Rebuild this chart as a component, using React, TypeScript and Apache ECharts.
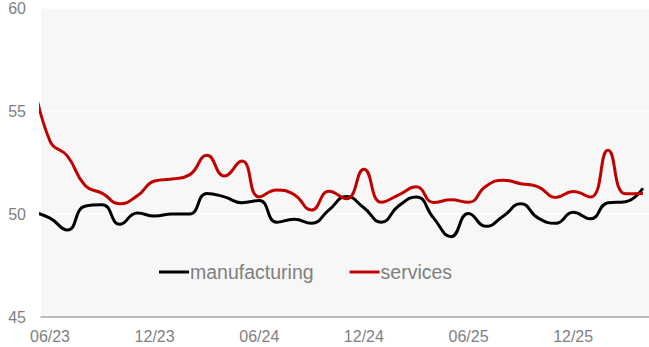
import React, { useEffect, useRef } from "react";
import * as echarts from "echarts";

// months: index 0 is 05/23 (partly clipped at the left edge), last is 04/26
const months: string[] = [
  "05/23", "06/23", "07/23", "08/23", "09/23", "10/23", "11/23", "12/23",
  "01/24", "02/24", "03/24", "04/24", "05/24", "06/24", "07/24", "08/24",
  "09/24", "10/24", "11/24", "12/24", "01/25", "02/25", "03/25", "04/25",
  "05/25", "06/25", "07/25", "08/25", "09/25", "10/25", "11/25", "12/25",
  "01/26", "02/26", "03/26", "04/26",
];

const manufacturing: number[] = [
  50.1, 49.8, 49.22, 50.38, 50.45, 49.5, 50.05, 49.9,
  50.0, 50.0, 51.0, 50.83, 50.55, 50.65, 49.6, 49.75,
  49.55, 50.2, 50.85, 50.3, 49.6, 50.4, 50.83, 49.8,
  48.9, 50.03, 49.4, 49.9, 50.5, 49.8, 49.55, 50.08,
  49.77, 50.55, 50.6, 51.25,
];

const services: number[] = [
  56.8, 53.54, 52.81, 51.4, 51.0, 50.5, 50.88, 51.6,
  51.7, 51.9, 52.85, 51.85, 52.57, 50.83, 51.16, 50.94,
  50.19, 51.1, 50.74, 52.17, 50.57, 50.93, 51.32, 50.56,
  50.69, 50.57, 51.35, 51.64, 51.47, 51.32, 50.8, 51.09,
  50.82, 53.09, 50.98, 50.99,
];

const yTicks: number[] = [45, 50, 55, 60];
const xLabelMonths: string[] = ["06/23", "12/23", "06/24", "12/24", "06/25", "12/25"];

export default function App() {
  const ref = useRef<HTMLDivElement>(null);

  useEffect(() => {
    if (!ref.current) return;
    const chart = echarts.init(ref.current, null, { renderer: "svg" });
    // x position: months since 06/23
    const toPairs = (vals: number[]) => vals.map((v, i) => [i - 1, v]);
    const labelIdx = xLabelMonths.map((m) => months.indexOf(m) - 1);
    const grey = "#7f7f7f";
    const font = "'Liberation Sans', Arial, sans-serif";

    chart.setOption({
      animation: false,
      backgroundColor: "#ffffff",
      grid: {
        left: 41,
        right: 0,
        top: 6,
        bottom: 30,
        show: true,
        backgroundColor: "#f7f7f7",
        borderWidth: 0,
      },
      legend: {
        left: 159,
        top: 262,
        padding: 0,
        itemGap: 36,
        itemWidth: 30,
        itemHeight: 3,
        icon: "rect",
        textStyle: {
          fontFamily: font,
          fontSize: 19.5,
          color: grey,
          padding: [9, 0, 0, -4],
        },
        data: [
          { name: "manufacturing", itemStyle: { color: "#000000" } },
          { name: "services", itemStyle: { color: "#c00000" } },
        ],
      },
      xAxis: {
        type: "value",
        min: -0.516,
        max: 34.35,
        axisLine: { show: true, lineStyle: { color: "#a6a6a6", width: 1.5 } },
        axisTick: { show: false },
        splitLine: { show: false },
        axisLabel: {
          customValues: labelIdx,
          margin: 11,
          fontFamily: font,
          fontSize: 16,
          color: grey,
          formatter: (v: number) => months[Math.round(v) + 1] ?? "",
        },
      },
      yAxis: {
        type: "value",
        min: yTicks[0],
        max: yTicks[yTicks.length - 1],
        interval: 5,
        axisLine: { show: false },
        axisTick: { show: false },
        splitLine: { show: true, lineStyle: { color: "#ffffff", width: 1.5 } },
        axisLabel: {
          margin: 15,
          fontFamily: font,
          fontSize: 16,
          color: grey,
        },
      },
      series: [
        {
          name: "manufacturing",
          type: "line",
          data: toPairs(manufacturing),
          smooth: 0.5,
          showSymbol: false,
          symbol: "none",
          clip: true,
          lineStyle: { color: "#000000", width: 3 },
          itemStyle: { color: "#000000" },
        },
        {
          name: "services",
          type: "line",
          data: toPairs(services),
          smooth: 0.5,
          showSymbol: false,
          symbol: "none",
          clip: true,
          lineStyle: { color: "#c00000", width: 3 },
          itemStyle: { color: "#c00000" },
        },
      ],
    });

    return () => chart.dispose();
  }, []);

  return (
    <div
      ref={ref}
      style={{ position: "fixed", left: 0, top: 0, width: 649, height: 347 }}
    />
  );
}
